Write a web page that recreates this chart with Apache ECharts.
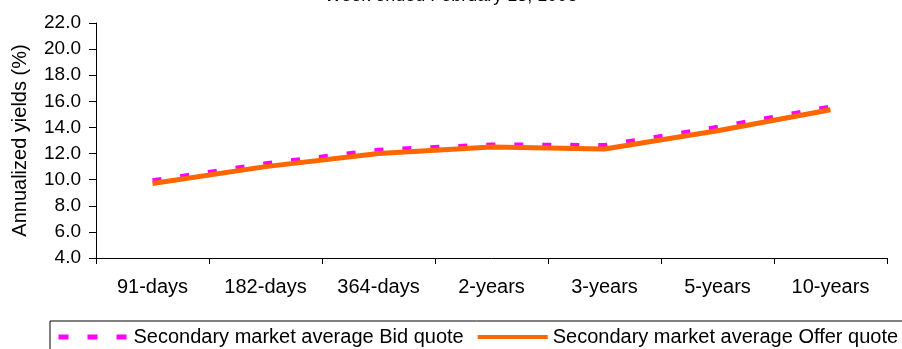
<!DOCTYPE html>
<html>
<head>
<meta charset="utf-8">
<script src="https://cdn.jsdelivr.net/npm/echarts@6/dist/echarts.min.js"></script>
<style>
  html, body { margin: 0; padding: 0; background: #fff; }
  #chart { width: 902px; height: 349px; }
</style>
</head>
<body>
<div id="chart"></div>
<script>
// Treasury bill and bond secondary market yields by maturity
const maturities = ['91-days', '182-days', '364-days', '2-years', '3-years', '5-years', '10-years'];
const bidQuote = [9.95, 11.25, 12.3, 12.7, 12.65, 14.05, 15.6];
const offerQuote = [9.7, 11.0, 12.0, 12.5, 12.35, 13.75, 15.35];
const yTicks = { min: 4, max: 22, step: 2 };

const font = 'Arial, "Liberation Sans", sans-serif';
const bidName = 'Secondary market average Bid quote';
const offerName = 'Secondary market average Offer quote';
const chart = echarts.init(document.getElementById('chart'), null, { renderer: 'canvas' });

chart.setOption({
  animation: false,
  backgroundColor: '#ffffff',
  title: {
    text: 'Week ended February 13, 1998',
    left: 'center',
    top: -18,
    textStyle: { fontFamily: font, fontSize: 18, fontWeight: 'normal', color: '#000' }
  },
  grid: { left: 96, right: 15, top: 23, bottom: 91 },
  legend: {
    left: 50,
    top: 321,
    width: 1200,
    orient: 'horizontal',
    padding: [6, 20, 10, 6],
    itemGap: 12,
    itemWidth: 70,
    itemHeight: 14,
    borderColor: '#000',
    borderWidth: 1,
    itemStyle: { opacity: 0 },
    textStyle: { fontFamily: font, fontSize: 20, color: '#000' },
    data: [
      { name: bidName, lineStyle: { width: 5, type: [10, 19] } },
      { name: offerName, lineStyle: { width: 4 } }
    ]
  },
  xAxis: {
    type: 'category',
    data: maturities,
    boundaryGap: true,
    axisLine: { lineStyle: { color: '#000', width: 1 } },
    axisTick: { show: true, length: 6, inside: false, lineStyle: { color: '#000' } },
    axisLabel: { fontFamily: font, fontSize: 20, color: '#000', margin: 19 },
    splitLine: { show: false }
  },
  yAxis: {
    type: 'value',
    min: yTicks.min,
    max: yTicks.max,
    interval: yTicks.step,
    name: 'Annualized yields (%)',
    nameLocation: 'middle',
    nameGap: 66,
    nameTextStyle: { fontFamily: font, fontSize: 20, color: '#000' },
    axisLine: { show: true, lineStyle: { color: '#000', width: 1 } },
    axisTick: { show: true, length: 7, lineStyle: { color: '#000' } },
    axisLabel: {
      fontFamily: font, fontSize: 19, color: '#000', margin: 15,
      formatter: v => v.toFixed(1)
    },
    splitLine: { show: false }
  },
  series: [
    {
      name: bidName,
      type: 'line',
      data: bidQuote,
      symbol: 'none',
      z: 2,
      itemStyle: { color: '#ff00ff' },
      lineStyle: { color: '#ff00ff', width: 4, type: [9, 19] }
    },
    {
      name: offerName,
      type: 'line',
      data: offerQuote,
      symbol: 'none',
      z: 3,
      itemStyle: { color: '#ff6600' },
      lineStyle: { color: '#ff6600', width: 5 }
    }
  ]
});
</script>
</body>
</html>
